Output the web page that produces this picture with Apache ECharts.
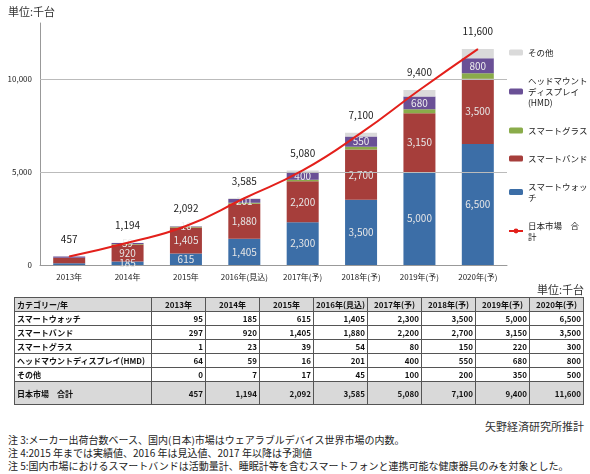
<!DOCTYPE html>
<html><head><meta charset="utf-8">
<script src="https://cdn.jsdelivr.net/npm/echarts@6/dist/echarts.min.js"></script>
<style>
body{margin:0;width:590px;height:474px;background:#fff;font-family:"Noto Sans CJK JP",sans-serif;position:relative;overflow:hidden}
#chart{position:absolute;left:0;top:0;width:590px;height:290px}
.unit{position:absolute;font-size:11px;color:#333}
table{position:absolute;left:14px;top:297px;width:570px;border-collapse:collapse;font-size:8px;color:#111;table-layout:fixed}
td{border:1px solid #555;padding:0 2px;height:13px;text-align:right;font-weight:bold;white-space:nowrap;overflow:hidden}
td:first-child{text-align:left;width:132px}
tr.h td{background:#d9d9d9;text-align:center}
tr.h td:first-child{text-align:left}
tr.t td{background:#d9d9d9;height:22px}
.notes{position:absolute;left:8px;top:433px;font-size:10px;line-height:13px;color:#222;width:578px}
</style></head><body>
<div id="chart"></div>
<div class="unit" style="left:8px;top:3px">単位:千台</div>
<div class="unit" style="right:6px;top:281px">単位:千台</div>
<table id="tbl"></table>
<div class="unit" style="right:6px;top:418px;font-size:11px">矢野経済研究所推計</div>
<div class="notes">注 3:メーカー出荷台数ベース、国内(日本)市場はウェアラブルデバイス世界市場の内数。<br>注 4:2015 年までは実績値、2016 年は見込値、2017 年以降は予測値<br>注 5:国内市場におけるスマートバンドは活動量計、睡眠計等を含むスマートフォンと連携可能な健康器具のみを対象とした。</div>
<script>
const years = ['2013年','2014年','2015年','2016年(見込)','2017年(予)','2018年(予)','2019年(予)','2020年(予)'];
const watch = [95,185,615,1405,2300,3500,5000,6500];
const band = [297,920,1405,1880,2200,2700,3150,3500];
const glass = [1,23,39,54,80,150,220,300];
const hmd = [64,59,16,201,400,550,680,800];
const other = [0,7,17,45,100,200,350,500];
const total = [457,1194,2092,3585,5080,7100,9400,11600];

const fmt = v => v.toLocaleString('en-US');
const lab = (color) => ({show:true,color:color,fontSize:10,
  formatter:p => p.dataIndex === 0 ? '' : fmt(p.value)});

const chart = echarts.init(document.getElementById('chart'));
chart.setOption({
  animation:false,
  textStyle:{fontFamily:'"Noto Sans CJK JP",sans-serif'},
  grid:{left:40,right:83,top:23,bottom:25},
  legend:{orient:'vertical',left:503,top:42,itemWidth:14,itemHeight:6,itemGap:17,
    textStyle:{fontSize:8.5,color:'#222',lineHeight:11},
    data:['その他','ヘッドマウントディスプレイ(HMD)','スマートグラス','スマートバンド','スマートウォッチ','日本市場 合計'],
    formatter:n => ({'ヘッドマウントディスプレイ(HMD)':'ヘッドマウント\nディスプレイ\n(HMD)','スマートウォッチ':'スマートウォッ\nチ','日本市場 合計':'日本市場　合\n計'})[n] || n},
  xAxis:{type:'category',data:years,axisTick:{show:false},
    axisLine:{lineStyle:{color:'#999'}},axisLabel:{interval:0,fontSize:8,color:'#222',margin:8}},
  yAxis:{type:'value',min:0,max:13000,interval:5000,
    axisLine:{show:true,lineStyle:{color:'#999'}},splitLine:{show:false},
    axisLabel:{fontSize:8,color:'#222',formatter:v => v % 5000 ? '' : fmt(v)}},
  series:[
    {name:'スマートウォッチ',type:'bar',stack:'a',barWidth:32,data:watch,itemStyle:{color:'#3c6ea7'},label:lab('#e6e6e6'),
      markLine:{silent:true,symbol:'none',label:{show:false},lineStyle:{color:'#bbb',type:'solid',width:1},data:[{yAxis:5000},{yAxis:10000}]}},
    {name:'スマートバンド',type:'bar',stack:'a',data:band,itemStyle:{color:'#a63e3b'},label:lab('#e6e6e6')},
    {name:'スマートグラス',type:'bar',stack:'a',data:glass,itemStyle:{color:'#8aac4a'}},
    {name:'ヘッドマウントディスプレイ(HMD)',type:'bar',stack:'a',data:hmd,itemStyle:{color:'#6a5096'},label:lab('#eee')},
    {name:'その他',type:'bar',stack:'a',data:other,itemStyle:{color:'#dadada'}},
    {name:'日本市場 合計',type:'line',smooth:true,data:total,symbol:'circle',symbolSize:1,showSymbol:true,z:5,
      lineStyle:{color:'#e3201b',width:2},itemStyle:{color:'#e3201b'},
      label:{show:true,position:'top',distance:12,color:'#222',fontSize:10,formatter:p => fmt(p.value)}}
  ]
});

const rows = [['スマートウォッチ',watch],['スマートバンド',band],['スマートグラス',glass],
  ['ヘッドマウントディスプレイ(HMD)',hmd],['その他',other]];
let html = '<tr class="h"><td>カテゴリー/年</td>' + years.map(y => '<td>'+y+'</td>').join('') + '</tr>';
rows.forEach(r => { html += '<tr><td>'+r[0]+'</td>' + r[1].map(v => '<td>'+fmt(v)+'</td>').join('') + '</tr>'; });
html += '<tr class="t"><td>日本市場　合計</td>' + total.map(v => '<td>'+fmt(v)+'</td>').join('') + '</tr>';
document.getElementById('tbl').innerHTML = html;
</script>
</body></html>
